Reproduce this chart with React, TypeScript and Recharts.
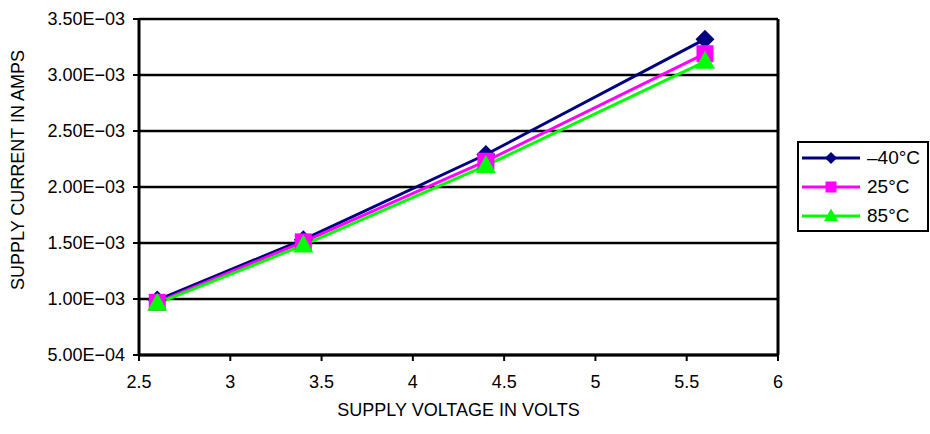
import React from 'react';
import {
  LineChart,
  Line,
  XAxis,
  YAxis,
  CartesianGrid,
  ReferenceLine,
} from 'recharts';

const voltage = [2.6, 3.4, 4.4, 5.6];
const currentMinus40 = [0.99e-3, 1.53e-3, 2.29e-3, 3.32e-3];
const current25 = [0.97e-3, 1.51e-3, 2.23e-3, 3.19e-3];
const current85 = [0.96e-3, 1.48e-3, 2.19e-3, 3.12e-3];

const xTicks = [2.5, 3, 3.5, 4, 4.5, 5, 5.5, 6];
const yTicks = [0.0005, 0.001, 0.0015, 0.002, 0.0025, 0.003, 0.0035];

const seriesNames = ['\u201340\u00B0C', '25\u00B0C', '85\u00B0C'];

const FONT = '"Liberation Sans", Arial, sans-serif';
const NAVY = '#000080';
const MAGENTA = '#FF00FF';
const GREEN = '#00FF00';

const data = voltage.map((v, i) => ({
  v,
  m40: currentMinus40[i],
  c25: current25[i],
  c85: current85[i],
}));

function sciLabel(value: number) {
  const [mant, exp] = value.toExponential(2).split('e');
  const n = parseInt(exp, 10);
  const sign = n < 0 ? '\u2212' : '+';
  return `${mant}E${sign}${String(Math.abs(n)).padStart(2, '0')}`;
}

// markers use "size" since recharts overwrites r on cloned dots
const Diamond = (props: any) => {
  const { cx, cy, fill, size = 9.5 } = props;
  if (cx == null || cy == null) return null;
  const s = size;
  return (
    <polygon
      points={`${cx},${cy - s} ${cx + s},${cy} ${cx},${cy + s} ${cx - s},${cy}`}
      fill={fill}
    />
  );
};

const Square = (props: any) => {
  const { cx, cy, fill, size = 8.5 } = props;
  if (cx == null || cy == null) return null;
  return <rect x={cx - size} y={cy - size} width={size * 2} height={size * 2} fill={fill} />;
};

const Triangle = (props: any) => {
  const { cx, cy, fill, size = 10 } = props;
  if (cx == null || cy == null) return null;
  const h = size * 1.8;
  return (
    <polygon
      points={`${cx},${cy - h * 0.6} ${cx + size},${cy + h * 0.4} ${cx - size},${cy + h * 0.4}`}
      fill={fill}
    />
  );
};

const legendItems = [
  { name: seriesNames[0], color: NAVY, Marker: Diamond, size: 6 },
  { name: seriesNames[1], color: MAGENTA, Marker: Square, size: 5.5 },
  { name: seriesNames[2], color: GREEN, Marker: Triangle, size: 7 },
];

const YTitle = (props: any) => {
  const { viewBox } = props;
  if (!viewBox) return null;
  const x = viewBox.x + 18;
  const y = viewBox.y + viewBox.height / 2 - 17;
  return (
    <text
      x={x}
      y={y}
      transform={`rotate(-90, ${x}, ${y})`}
      textAnchor="middle"
      dominantBaseline="central"
      fontSize={18}
      fontFamily={FONT}
      fill="#000"
    >
      SUPPLY CURRENT IN AMPS
    </text>
  );
};

export default function App() {
  const tickStyle = { fontSize: 18, fill: '#000', fontFamily: FONT };
  return (
    <div
      style={{
        position: 'absolute',
        left: 0,
        top: 0,
        width: 930,
        height: 434,
        background: '#fff',
        fontFamily: FONT,
      }}
    >
      <LineChart
        width={930}
        height={434}
        data={data}
        margin={{ top: 19, right: 152, left: 0, bottom: 0 }}
      >
        <CartesianGrid vertical={false} stroke="#000" strokeWidth={2.5} />
        <XAxis
          dataKey="v"
          type="number"
          domain={[2.5, 6]}
          ticks={xTicks}
          height={79}
          tick={tickStyle}
          tickSize={6}
          tickMargin={14}
          axisLine={{ stroke: '#000', strokeWidth: 3 }}
          tickLine={{ stroke: '#000', strokeWidth: 2 }}
          label={{
            value: 'SUPPLY VOLTAGE IN VOLTS',
            position: 'insideBottom',
            offset: 18,
            style: { fontSize: 18, fill: '#000', fontFamily: FONT },
          }}
        />
        <YAxis
          type="number"
          domain={[0.0005, 0.0035]}
          ticks={yTicks}
          width={139}
          tick={tickStyle}
          tickSize={6}
          tickMargin={8}
          tickFormatter={sciLabel}
          axisLine={{ stroke: '#000', strokeWidth: 3 }}
          tickLine={{ stroke: '#000', strokeWidth: 2 }}
          label={{ content: <YTitle /> }}
        />
        <ReferenceLine x={6} stroke="#000" strokeWidth={3} />
        <Line
          dataKey="m40"
          name={seriesNames[0]}
          stroke={NAVY}
          strokeWidth={3}
          dot={<Diamond fill={NAVY} />}
          activeDot={false}
          isAnimationActive={false}
        />
        <Line
          dataKey="c25"
          name={seriesNames[1]}
          stroke={MAGENTA}
          strokeWidth={3}
          dot={<Square fill={MAGENTA} />}
          activeDot={false}
          isAnimationActive={false}
        />
        <Line
          dataKey="c85"
          name={seriesNames[2]}
          stroke={GREEN}
          strokeWidth={3}
          dot={<Triangle fill={GREEN} />}
          activeDot={false}
          isAnimationActive={false}
        />
      </LineChart>
      <div
        style={{
          position: 'absolute',
          left: 797,
          top: 141,
          width: 132,
          height: 91,
          boxSizing: 'border-box',
          border: '2px solid #000',
          background: '#fff',
        }}
      >
        {legendItems.map(({ name, color, Marker, size }) => (
          <div key={name} style={{ display: 'flex', alignItems: 'center', height: 29 }}>
            <svg width={58} height={20} style={{ marginLeft: 3, display: 'block' }}>
              <line x1={0} y1={10} x2={58} y2={10} stroke={color} strokeWidth={3} />
              <Marker cx={29} cy={10} fill={color} size={size} />
            </svg>
            <span style={{ marginLeft: 7, fontSize: 19, lineHeight: '20px', color: '#000' }}>
              {name}
            </span>
          </div>
        ))}
      </div>
    </div>
  );
}
